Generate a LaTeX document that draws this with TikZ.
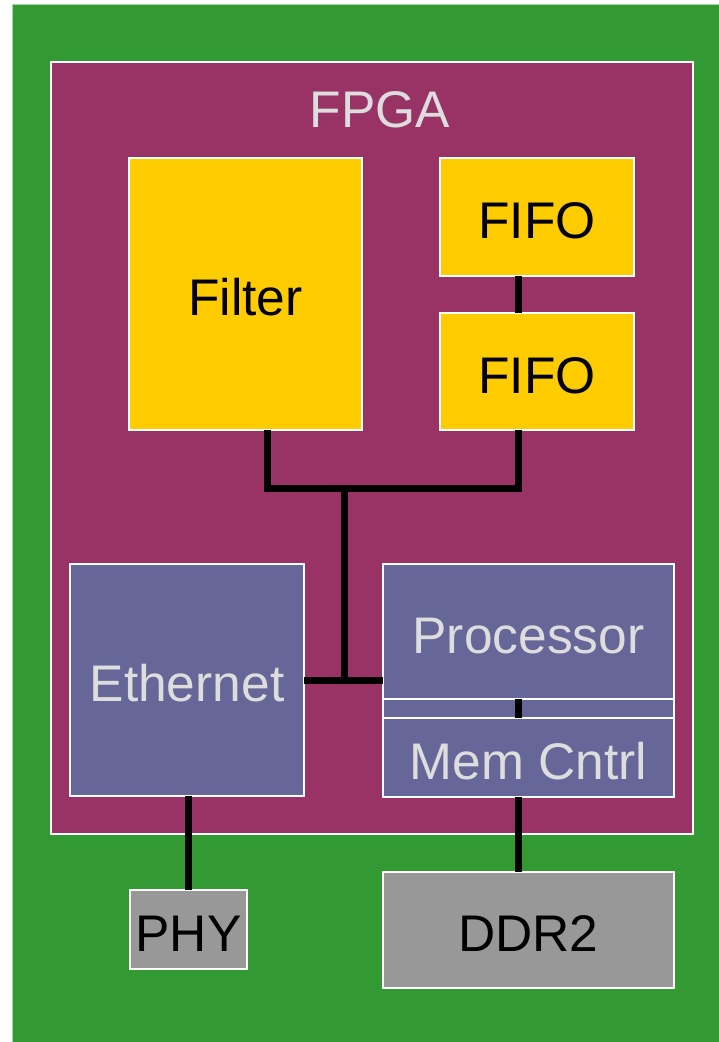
\documentclass[tikz,border=0pt]{standalone}
\usepackage{fontspec}
\setmainfont{Liberation Sans}
\definecolor{board}{HTML}{339933}
\definecolor{fpga}{HTML}{993366}
\definecolor{ip}{HTML}{FFCC00}
\definecolor{hard}{HTML}{666699}
\definecolor{chip}{HTML}{989898}
\definecolor{pale}{HTML}{DDDDDD}
\begin{document}
\begin{tikzpicture}[x=1pt,y=-1pt,
  box/.style={draw=white, line width=1.5pt, inner sep=0pt, outer sep=0pt,
    font=\fontsize{51.5}{60}\selectfont, text height=43pt, text depth=0pt},
  ipbox/.style={box, fill=ip, text=black},
  hardbox/.style={box, fill=hard, text=pale},
  chipbox/.style={box, fill=chip, text=black},
  wire/.style={line width=7pt, black, line join=miter}]
\useasboundingbox (0,0) rectangle (719,1042);
\node[box, fill=board, draw=board!40!white, line width=0.8pt, minimum width=707pt, minimum height=1038pt] (pcb) at (365.5,523) {};
\node[box, fill=fpga, minimum width=642pt, minimum height=772pt] (fpgabox) at (372,448) {};
\node[text=pale, font=\fontsize{51.5}{60}\selectfont, inner sep=0pt, text height=43pt, text depth=0pt] (fpgalabel) at (380,106) {FPGA};
\node[ipbox, minimum width=233pt, minimum height=272pt] (filter) at (245.5,294) {Filter};
\node[ipbox, minimum width=194pt, minimum height=118pt] (fifoa) at (537,217) {FIFO};
\node[ipbox, minimum width=194pt, minimum height=117pt] (fifob) at (537,371.5) {FIFO};
\node[hardbox, minimum width=234pt, minimum height=232pt] (eth) at (187,680) {Ethernet};
\node[hardbox, minimum width=291pt, minimum height=135pt] (proc) at (528.5,631.5) {Processor};
\node[hardbox, text height=0pt, minimum width=291pt, minimum height=19pt] (strip) at (528.5,708.5) {};
\node[hardbox, minimum width=291pt, minimum height=79pt] (mem) at (528.5,757.5) {Mem Cntrl};
\node[chipbox, minimum width=117pt, minimum height=79pt] (phy) at (188.5,929.5) {PHY};
\node[chipbox, minimum width=291pt, minimum height=116pt] (ddr) at (528.5,930) {DDR2};
\coordinate (busx) at (518,0);
\coordinate (fx) at (267,488);
\coordinate (jt) at (344,488);
\draw[wire] (fifoa.south -| busx) -- (fifob.north -| busx);
\draw[wire] (filter.south -| fx) -- (fx) -- (fx -| busx) -- (fifob.south -| busx);
\draw[wire] (jt) -- (jt |- eth.east);
\draw[wire] (eth.east) -- (eth.east -| proc.west);
\draw[wire] (proc.south -| busx) -- (mem.north -| busx);
\draw[wire] (mem.south -| busx) -- (ddr.north -| busx);
\draw[wire] (phy.north |- eth.south) -- (phy.north);
\end{tikzpicture}
\end{document}
